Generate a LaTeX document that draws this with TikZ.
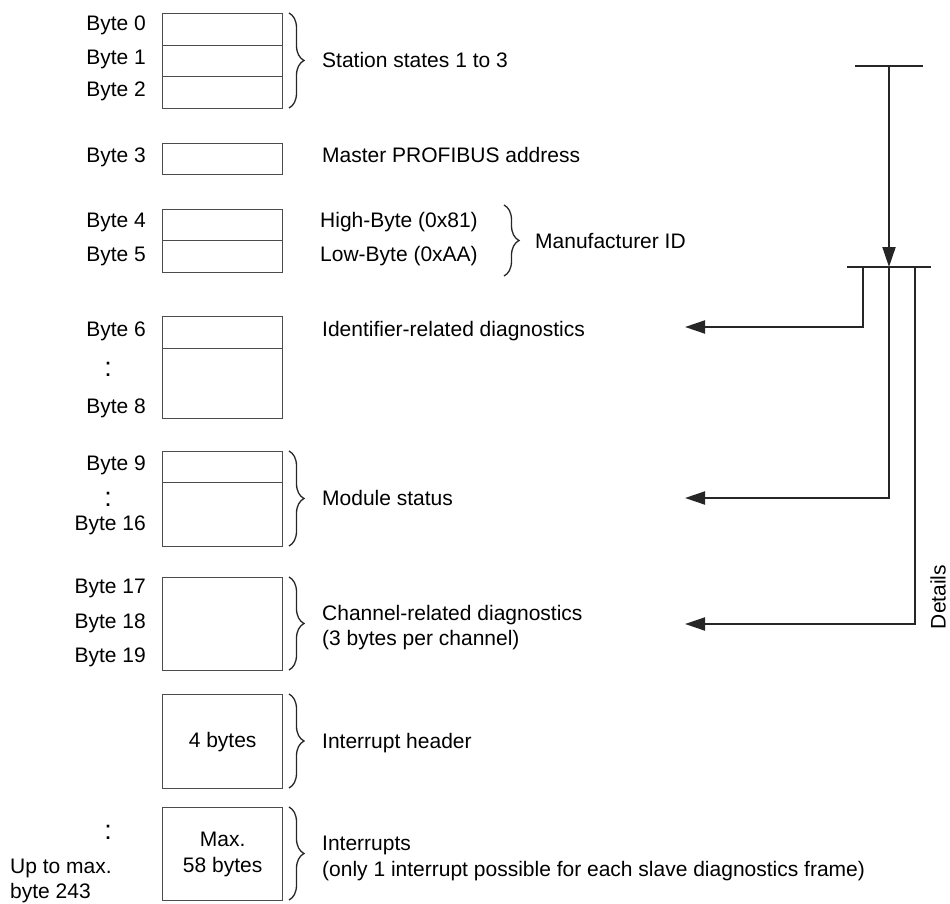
\documentclass[tikz,border=0pt]{standalone}
\usepackage{fontspec}
\setmainfont{Liberation Sans}
\usetikzlibrary{arrows.meta,positioning,decorations.pathreplacing}

\begin{document}
\begin{tikzpicture}[
  x=1pt, y=-1pt,
  font=\fontsize{21}{26}\selectfont,
  cell/.style={draw=black!70, line width=1.3pt, minimum width=120pt, inner sep=0pt, anchor=north west},
  lbl/.style={anchor=base east, inner sep=0pt},
  txt/.style={anchor=base west, inner sep=0pt},
  dots/.style={inner sep=0pt, font=\fontsize{27}{30}\selectfont},
  brc/.style={decorate, decoration={brace, amplitude=15pt}, line width=1.3pt, draw=black!85},
  arr/.style={-{Triangle[length=20pt, width=13pt]}, line width=2pt, draw=black!85},
  ln/.style={line width=2pt, draw=black!85}
]
\useasboundingbox (0,0) rectangle (950,904);
\node[cell, minimum height=32pt] (b0) at (162,13) {};
\node[cell, minimum height=31pt] (b1) at (162,45) {};
\node[cell, minimum height=32pt] (b2) at (162,76) {};
\node[cell, minimum height=31pt] (b3) at (162,143) {};
\node[cell, minimum height=31pt] (b4) at (162,209) {};
\node[cell, minimum height=32pt] (b5) at (162,240) {};
\node[cell, minimum height=32pt] (b6) at (162,316) {};
\node[cell, minimum height=70pt] (b8) at (162,348) {};
\node[cell, minimum height=31pt] (b9) at (162,451) {};
\node[cell, minimum height=64pt] (b16) at (162,482) {};
\node[cell, minimum height=93pt] (b17) at (162,577) {};
\node[cell, minimum height=94pt] (hdr) at (162,694) {4 bytes};
\node[cell, minimum height=93pt, align=center] (intr) at (162,807) {Max.\\58 bytes};

\node[lbl] (l0) at (146,31) {Byte 0};
\node[lbl] (l1) at (146,65) {Byte 1};
\node[lbl] (l2) at (146,97) {Byte 2};
\node[lbl] (l3) at (146,163) {Byte 3};
\node[lbl] (l4) at (146,228) {Byte 4};
\node[lbl] (l5) at (146,261) {Byte 5};
\node[lbl] (l6) at (146,336) {Byte 6};
\node[dots] (d6) at (108,369) {:};
\node[lbl] (l8) at (146,413) {Byte 8};
\node[lbl] (l9) at (146,470) {Byte 9};
\node[dots] (d9) at (108,499) {:};
\node[lbl] (l16) at (146,530) {Byte 16};
\node[lbl] (l17) at (146,593) {Byte 17};
\node[lbl] (l18) at (146,628) {Byte 18};
\node[lbl] (l19) at (146,662) {Byte 19};
\node[dots] (dmax) at (108,832) {:};
\node[txt] (umax) at (10,873) {Up to max.};
\node[txt] (ulast) at (10,898) {byte 243};

\draw[brc] (289,13) -- (289,108);
\draw[brc] (289,451) -- (289,546);
\draw[brc] (289,577) -- (289,670);
\draw[brc] (289,694) -- (289,788);
\draw[brc] (289,807) -- (289,900);
\draw[brc] (504,205) -- (504,276);

\node[txt] (stat) at (322,68) {Station states 1 to 3};
\node[txt] (mstr) at (322,163) {Master PROFIBUS address};
\node[txt] (hi) at (320,228) {High-Byte (0x81)};
\node[txt] (lo) at (320,261) {Low-Byte (0xAA)};
\node[txt] (manu) at (535,248) {Manufacturer ID};
\node[txt] (ident) at (322,336) {Identifier-related diagnostics};
\node[txt] (mod) at (322,505) {Module status};
\node[txt] (chan) at (322,620) {Channel-related diagnostics};
\node[txt] (chan2) at (322,645) {(3 bytes per channel)};
\node[txt] (ihdr) at (322,748) {Interrupt header};
\node[txt] (ints) at (322,850) {Interrupts};
\node[txt] (ints2) at (322,876) {(only 1 interrupt possible for each slave diagnostics frame)};

\coordinate (srcL) at (855,66);
\coordinate (srcR) at (923,66);
\coordinate (src) at (889,66);
\coordinate (busL) at (847,267);
\coordinate (busR) at (931,267);
\coordinate (tapA) at (863,267);
\coordinate (tapB) at (889,267);
\coordinate (tapC) at (915,267);
\coordinate (tipA) at (685,327);
\coordinate (tipB) at (685,498);
\coordinate (tipC) at (685,624);
\draw[ln] (srcL) -- (srcR);
\draw[arr] (src) -- (tapB);
\draw[ln] (busL) -- (busR);
\draw[arr] (tapA) |- (tipA);
\draw[arr] (tapB) |- (tipB);
\draw[arr] (tapC) |- (tipC);
\node[rotate=90, inner sep=0pt] (det) at (938,597) {Details};
\end{tikzpicture}
\end{document}
